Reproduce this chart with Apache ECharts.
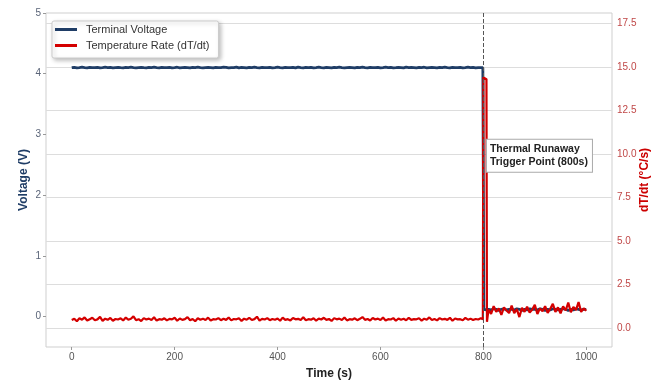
<!DOCTYPE html>
<html><head><meta charset="utf-8">
<script src="https://cdn.jsdelivr.net/npm/echarts@6/dist/echarts.min.js"></script>
<style>html,body{margin:0;padding:0;background:#fff}#c{width:661px;height:381px}</style>
</head><body><div id="c"></div>
<script>
const time = [
0,5,10,15,20,25,30,35,40,45,50,55,60,65,70,75,80,85,90,95,
100,105,110,115,120,125,130,135,140,145,150,155,160,165,170,175,180,185,190,195,
200,205,210,215,220,225,230,235,240,245,250,255,260,265,270,275,280,285,290,295,
300,305,310,315,320,325,330,335,340,345,350,355,360,365,370,375,380,385,390,395,
400,405,410,415,420,425,430,435,440,445,450,455,460,465,470,475,480,485,490,495,
500,505,510,515,520,525,530,535,540,545,550,555,560,565,570,575,580,585,590,595,
600,605,610,615,620,625,630,635,640,645,650,655,660,665,670,675,680,685,690,695,
700,705,710,715,720,725,730,735,740,745,750,755,760,765,770,775,780,785,790,795,
799,800,801,806,807,
810,815,820,825,830,835,840,845,850,855,860,865,870,875,880,885,890,895,900,905,
910,915,920,925,930,935,940,945,950,955,960,965,970,975,980,985,990,995,1000];

const voltage = [
4.100,4.105,4.095,4.100,4.108,4.100,4.096,4.104,4.100,4.100,4.105,4.096,4.100,4.107,4.100,4.104,4.095,4.100,4.105,4.100,
4.096,4.104,4.100,4.107,4.100,4.095,4.100,4.105,4.100,4.096,4.104,4.100,4.108,4.100,4.095,4.104,4.100,4.100,4.105,4.096,
4.100,4.107,4.095,4.100,4.104,4.100,4.096,4.105,4.100,4.108,4.100,4.095,4.100,4.104,4.100,4.096,4.105,4.100,4.100,4.107,
4.104,4.095,4.100,4.100,4.108,4.096,4.104,4.100,4.095,4.105,4.100,4.107,4.100,4.096,4.104,4.100,4.100,4.105,4.095,4.100,
4.107,4.100,4.096,4.104,4.100,4.100,4.105,4.095,4.108,4.100,4.096,4.104,4.100,4.105,4.095,4.100,4.107,4.100,4.096,4.104,
4.100,4.095,4.105,4.100,4.108,4.100,4.096,4.100,4.104,4.100,4.095,4.105,4.100,4.107,4.100,4.096,4.104,4.100,4.100,4.105,
4.095,4.100,4.107,4.100,4.104,4.096,4.100,4.105,4.100,4.095,4.108,4.100,4.104,4.100,4.096,4.105,4.100,4.107,4.095,4.100,
4.104,4.100,4.096,4.105,4.100,4.107,4.100,4.095,4.104,4.100,4.100,4.105,4.096,4.100,4.108,4.100,4.104,4.095,4.100,4.100,
4.100,4.100,0.12,0.11,0.13,
0.12,0.11,0.13,0.12,0.10,0.12,0.13,0.11,0.12,0.12,0.11,0.13,0.12,0.10,0.12,0.11,0.13,0.12,0.12,0.11,
0.13,0.12,0.10,0.12,0.11,0.13,0.12,0.11,0.12,0.13,0.12,0.10,0.12,0.11,0.13,0.12,0.11,0.12,0.12];

const dTdt = [
0.45,0.52,0.38,0.55,0.47,0.60,0.42,0.50,0.58,0.44,0.49,0.63,0.40,0.53,0.46,0.57,0.41,0.51,0.48,0.55,
0.43,0.59,0.47,0.52,0.66,0.44,0.50,0.39,0.56,0.48,0.53,0.45,0.61,0.42,0.50,0.47,0.55,0.43,0.52,0.49,
0.58,0.41,0.54,0.46,0.50,0.62,0.44,0.51,0.38,0.55,0.47,0.53,0.45,0.59,0.42,0.50,0.48,0.56,0.44,0.52,
0.46,0.60,0.43,0.51,0.49,0.55,0.40,0.53,0.47,0.58,0.45,0.50,0.64,0.42,0.52,0.48,0.56,0.44,0.51,0.47,
0.54,0.41,0.59,0.46,0.50,0.43,0.57,0.49,0.52,0.45,0.61,0.44,0.50,0.47,0.55,0.42,0.53,0.48,0.58,0.46,
0.51,0.40,0.56,0.49,0.53,0.45,0.60,0.43,0.50,0.47,0.55,0.44,0.52,0.62,0.46,0.51,0.42,0.57,0.48,0.53,
0.45,0.59,0.43,0.50,0.48,0.56,0.41,0.54,0.47,0.52,0.44,0.58,0.46,0.50,0.49,0.55,0.42,0.53,0.47,0.60,
0.45,0.51,0.43,0.56,0.48,0.52,0.46,0.58,0.41,0.54,0.49,0.50,0.44,0.57,0.47,0.53,0.45,0.51,0.48,0.55,
0.50,14.4,14.4,14.3,0.35,
1.05,0.80,1.25,0.92,1.12,0.75,1.18,1.00,0.85,1.28,0.84,1.08,0.62,1.15,0.92,1.22,0.88,1.05,1.32,0.80,
1.12,0.95,1.25,0.86,1.10,1.38,0.92,1.18,0.84,1.24,1.00,1.45,0.90,1.20,1.02,1.48,0.92,1.12,0.98];

const xTicks = [0,200,400,600,800,1000];
const vTicks = [0,1,2,3,4,5];
const rTicks = [0,2.5,5,7.5,10,12.5,15,17.5];
const triggerTime = 800;
const names = ['Terminal Voltage','Temperature Rate (dT/dt)'];

const chart = echarts.init(document.getElementById('c'), null, {renderer:'canvas'});
const FF = '"Liberation Sans", Arial, sans-serif';
chart.setOption({
  animation:false,
  backgroundColor:'#fff',
  textStyle:{fontFamily:FF},
  grid:{left:46,right:49,top:13,bottom:34,show:true,borderColor:'#cfcfcf',borderWidth:1,backgroundColor:'#fff',
        containLabel:false,outerBoundsMode:'none'},
  legend:{
    orient:'vertical',left:52,top:21,padding:[3,9,7,3],itemGap:5,itemWidth:22,itemHeight:3,
    icon:'rect',
    backgroundColor:'#fff',borderColor:'#cccccc',borderWidth:1,borderRadius:2,
    shadowBlur:4,shadowColor:'rgba(0,0,0,0.25)',shadowOffsetX:2,shadowOffsetY:2,
    textStyle:{fontSize:11,color:'#333',fontFamily:FF,padding:[0,0,0,4]},
    data:names
  },
  xAxis:{
    type:'value',min:-50,max:1050,
    name:'Time (s)',nameLocation:'middle',nameGap:21,nameMoveOverlap:false,
    nameTextStyle:{fontSize:12,fontWeight:'bold',color:'#222'},
    axisLine:{show:false,onZero:false},
    axisTick:{show:true,length:3,lineStyle:{color:'#999'},customValues:xTicks},
    axisLabel:{fontSize:10,color:'#555',margin:5,customValues:xTicks,formatter:v=>String(v)},
    splitLine:{show:false}
  },
  yAxis:[{
    type:'value',min:-0.5,max:5,position:'left',
    name:'Voltage (V)',nameLocation:'middle',nameGap:16,nameRotate:90,nameMoveOverlap:false,
    nameTextStyle:{fontSize:12,fontWeight:'bold',color:'#1f3d66'},
    axisLine:{show:false,onZero:false},
    axisTick:{show:true,length:3,lineStyle:{color:'#999'},customValues:vTicks},
    axisLabel:{fontSize:10,color:'#5a6478',margin:5,customValues:vTicks},
    splitLine:{show:false}
  },{
    type:'value',min:-1.1,max:18.1,position:'right',
    name:'dT/dt (°C/s)',nameLocation:'middle',nameGap:27,nameRotate:90,nameMoveOverlap:false,
    nameTextStyle:{fontSize:12,fontWeight:'bold',color:'#cc0000'},
    axisLine:{show:false,onZero:false},
    axisTick:{show:false,customValues:rTicks},
    axisLabel:{fontSize:10,color:'#c04848',margin:5,customValues:rTicks,formatter:v=>v.toFixed(1)},
    splitLine:{show:true,lineStyle:{color:'#dddddd',width:1}}
  }],
  series:[{
    name:names[0],type:'line',yAxisIndex:0,symbol:'none',
    lineStyle:{color:'#1f3d66',width:2.8},itemStyle:{color:'#1f3d66'},
    data:time.map((t,i)=>[t,voltage[i]]),
    markLine:{silent:true,symbol:['none','none'],label:{show:false},
      lineStyle:{type:[4,2],color:'#555',width:1},data:[{xAxis:triggerTime}]}
  },{
    name:names[1],type:'line',yAxisIndex:1,symbol:'none',
    lineStyle:{color:'#d40000',width:2.2},itemStyle:{color:'#d40000'},
    data:time.map((t,i)=>[t,dTdt[i]]),
    markPoint:{silent:true,data:[{coord:[805,9.9],symbol:'rect',symbolSize:0,
      label:{show:true,position:'right',distance:1,
        formatter:'Thermal Runaway\nTrigger Point (800s)',
        fontSize:10.5,fontWeight:'bold',color:'#222',lineHeight:13,
        backgroundColor:'#fff',borderColor:'#aaa',borderWidth:1,padding:[3,4,3,3]}}]}
  }]
});
</script></body></html>
